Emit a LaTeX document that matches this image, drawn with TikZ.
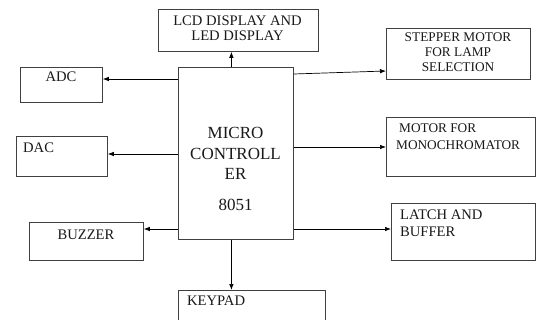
\documentclass[tikz,border=0pt]{standalone}
\usepackage{fontspec}
\setmainfont{Liberation Serif}
\usetikzlibrary{arrows.meta}
\tikzset{
  box/.style={draw=black!75, line width=0.8pt, minimum width=#1, inner sep=0pt, anchor=north west},
  txt/.style={inner sep=0pt, anchor=base, font=\fontsize{14.6}{16}\selectfont, text=black!90},
  txtl/.style={txt, anchor=base west},
  txts/.style={txt, font=\fontsize{13.3}{16}\selectfont},
  txtsl/.style={txts, anchor=base west},
  txtb/.style={txt, font=\fontsize{17}{18}\selectfont},
  arr/.style={line width=0.7pt, -{Latex[length=6pt,width=4.5pt]}}
}
\begin{document}
\begin{tikzpicture}[x=1pt,y=-1pt]
\clip (0,0) rectangle (537,320);
\fill[white] (0,0) rectangle (537,320);
% boxes
\node[box=160pt, minimum height=42pt] (lcd) at (158,9) {};
\node[box=115pt, minimum height=172pt] (micro) at (178,67) {};
\node[box=82pt, minimum height=35pt] (adc) at (20,67) {};
\node[box=91pt, minimum height=40pt] (dac) at (16,136) {};
\node[box=114pt, minimum height=38pt] (buzzer) at (29,222) {};
\node[box=147pt, minimum height=40pt] (keypad) at (178,290) {};
\node[box=144pt, minimum height=51pt] (stepper) at (386,28) {};
\node[box=149pt, minimum height=59pt] (motor) at (386,117) {};
\node[box=144pt, minimum height=57pt] (latch) at (391,203) {};
% texts
\node[txt] (lcdA) at (237.5,26) {LCD DISPLAY AND};
\node[txt] (lcdB) at (237.5,41) {LED DISPLAY};
\node[txtb] (mcA) at (235.5,139) {MICRO};
\node[txtb] (mcB) at (235.5,160) {CONTROLL};
\node[txtb] (mcC) at (235.5,180) {ER};
\node[txtb] (mcD) at (235.5,210) {8051};
\node[txt] (adcT) at (61,82) {ADC};
\node[txtl] (dacT) at (23,153) {DAC};
\node[txt] (buzT) at (86,239) {BUZZER};
\node[txtl] (keyT) at (187,305) {KEYPAD};
\node[txts] (stA) at (458,42) {STEPPER MOTOR};
\node[txts] (stB) at (458,57) {FOR LAMP};
\node[txts] (stC) at (458,72) {SELECTION};
\node[txtsl] (moA) at (399,133) {MOTOR FOR};
\node[txtsl] (moB) at (396,150) {MONOCHROMATOR};
\node[txtl] (laA) at (400,219) {LATCH AND};
\node[txtl] (laB) at (400,236) {BUFFER};
% connectors
\draw[arr] ([xshift=-4.5pt]micro.north) -- ([xshift=-4.5pt]micro.north |- lcd.south);
\draw[arr] ([xshift=-4.5pt]micro.south) -- ([xshift=-4.5pt]micro.south |- keypad.north);
\draw[arr] ([yshift=-12pt]micro.north west) -- ([yshift=-12pt]micro.north west -| adc.east);
\draw[arr] ([yshift=-87pt]micro.north west) -- ([yshift=-87pt]micro.north west -| dac.east);
\draw[arr] ([yshift=-162pt]micro.north west) -- ([yshift=-162pt]micro.north west -| buzzer.east);
\draw[arr] ([yshift=-7pt]micro.north east) -- ([yshift=-43pt]stepper.north west);
\draw[arr] ([yshift=-80pt]micro.north east) -- ([yshift=-80pt]micro.north east -| motor.west);
\draw[arr] ([yshift=-162pt]micro.north east) -- ([yshift=-162pt]micro.north east -| latch.west);
\end{tikzpicture}
\end{document}
